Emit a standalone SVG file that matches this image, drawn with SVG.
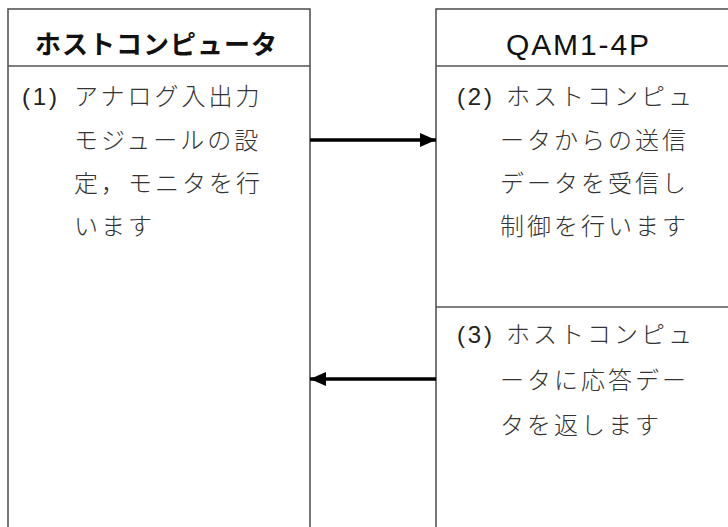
<svg xmlns="http://www.w3.org/2000/svg" width="728" height="527" viewBox="0 0 728 527">
<defs>
<style>
.box{fill:#fff;stroke:#555;stroke-width:1.6}
.div{stroke:#555;stroke-width:1.6}
.hdr{font-family:"Noto Sans CJK JP","Liberation Sans",sans-serif;font-size:26px;font-weight:bold;fill:#111}
.hdr2{font-family:"Liberation Sans","Noto Sans CJK JP",sans-serif;font-size:30px;fill:#111}
.num{font-family:"Liberation Sans",sans-serif;font-size:24px;fill:#222}
.jp{font-family:"Noto Sans CJK JP",sans-serif;font-size:24px;font-weight:300;fill:#333;letter-spacing:3px}
.conn{stroke:#000;stroke-width:3.5;fill:none}
</style>
<marker id="ah" markerUnits="userSpaceOnUse" markerWidth="16" markerHeight="16" refX="16" refY="8" orient="auto">
<path d="M0,1 L16,8 L0,15 Z" fill="#000"/>
</marker>
</defs>
<rect width="728" height="527" fill="#fff"/>
<g id="host">
<rect class="box" x="8" y="9" width="302" height="530"/>
<line class="div" x1="8" y1="66" x2="310" y2="66"/>
<text class="hdr" x="35" y="54" textLength="242" lengthAdjust="spacing">ホストコンピュータ</text>
<text class="num" x="22" y="105" textLength="35" lengthAdjust="spacing">(1)</text>
<text class="jp" x="74" y="105">アナログ入出力</text>
<text class="jp" x="74" y="149">モジュールの設</text>
<text class="jp" x="74" y="192">定，モニタを行</text>
<text class="jp" x="74" y="235">います</text>
</g>
<g id="qam">
<rect class="box" x="436" y="9" width="310" height="530"/>
<line class="div" x1="436" y1="66" x2="746" y2="66"/>
<line class="div" x1="436" y1="307" x2="746" y2="307"/>
<text class="hdr2" x="506" y="55" textLength="143" lengthAdjust="spacing">QAM1-4P</text>
<text class="num" x="457" y="105" textLength="35" lengthAdjust="spacing">(2)</text>
<text class="jp" x="506" y="105">ホストコンピュ</text>
<text class="jp" x="500" y="149">ータからの送信</text>
<text class="jp" x="500" y="192">データを受信し</text>
<text class="jp" x="500" y="235">制御を行います</text>
<text class="num" x="457" y="343" textLength="35" lengthAdjust="spacing">(3)</text>
<text class="jp" x="506" y="343">ホストコンピュ</text>
<text class="jp" x="500" y="389">ータに応答デー</text>
<text class="jp" x="500" y="434">タを返します</text>
</g>
<g id="connectors">
<line class="conn" x1="310" y1="140" x2="436" y2="140" marker-end="url(#ah)"/>
<line class="conn" x1="436" y1="379" x2="310" y2="379" marker-end="url(#ah)"/>
</g>
</svg>
